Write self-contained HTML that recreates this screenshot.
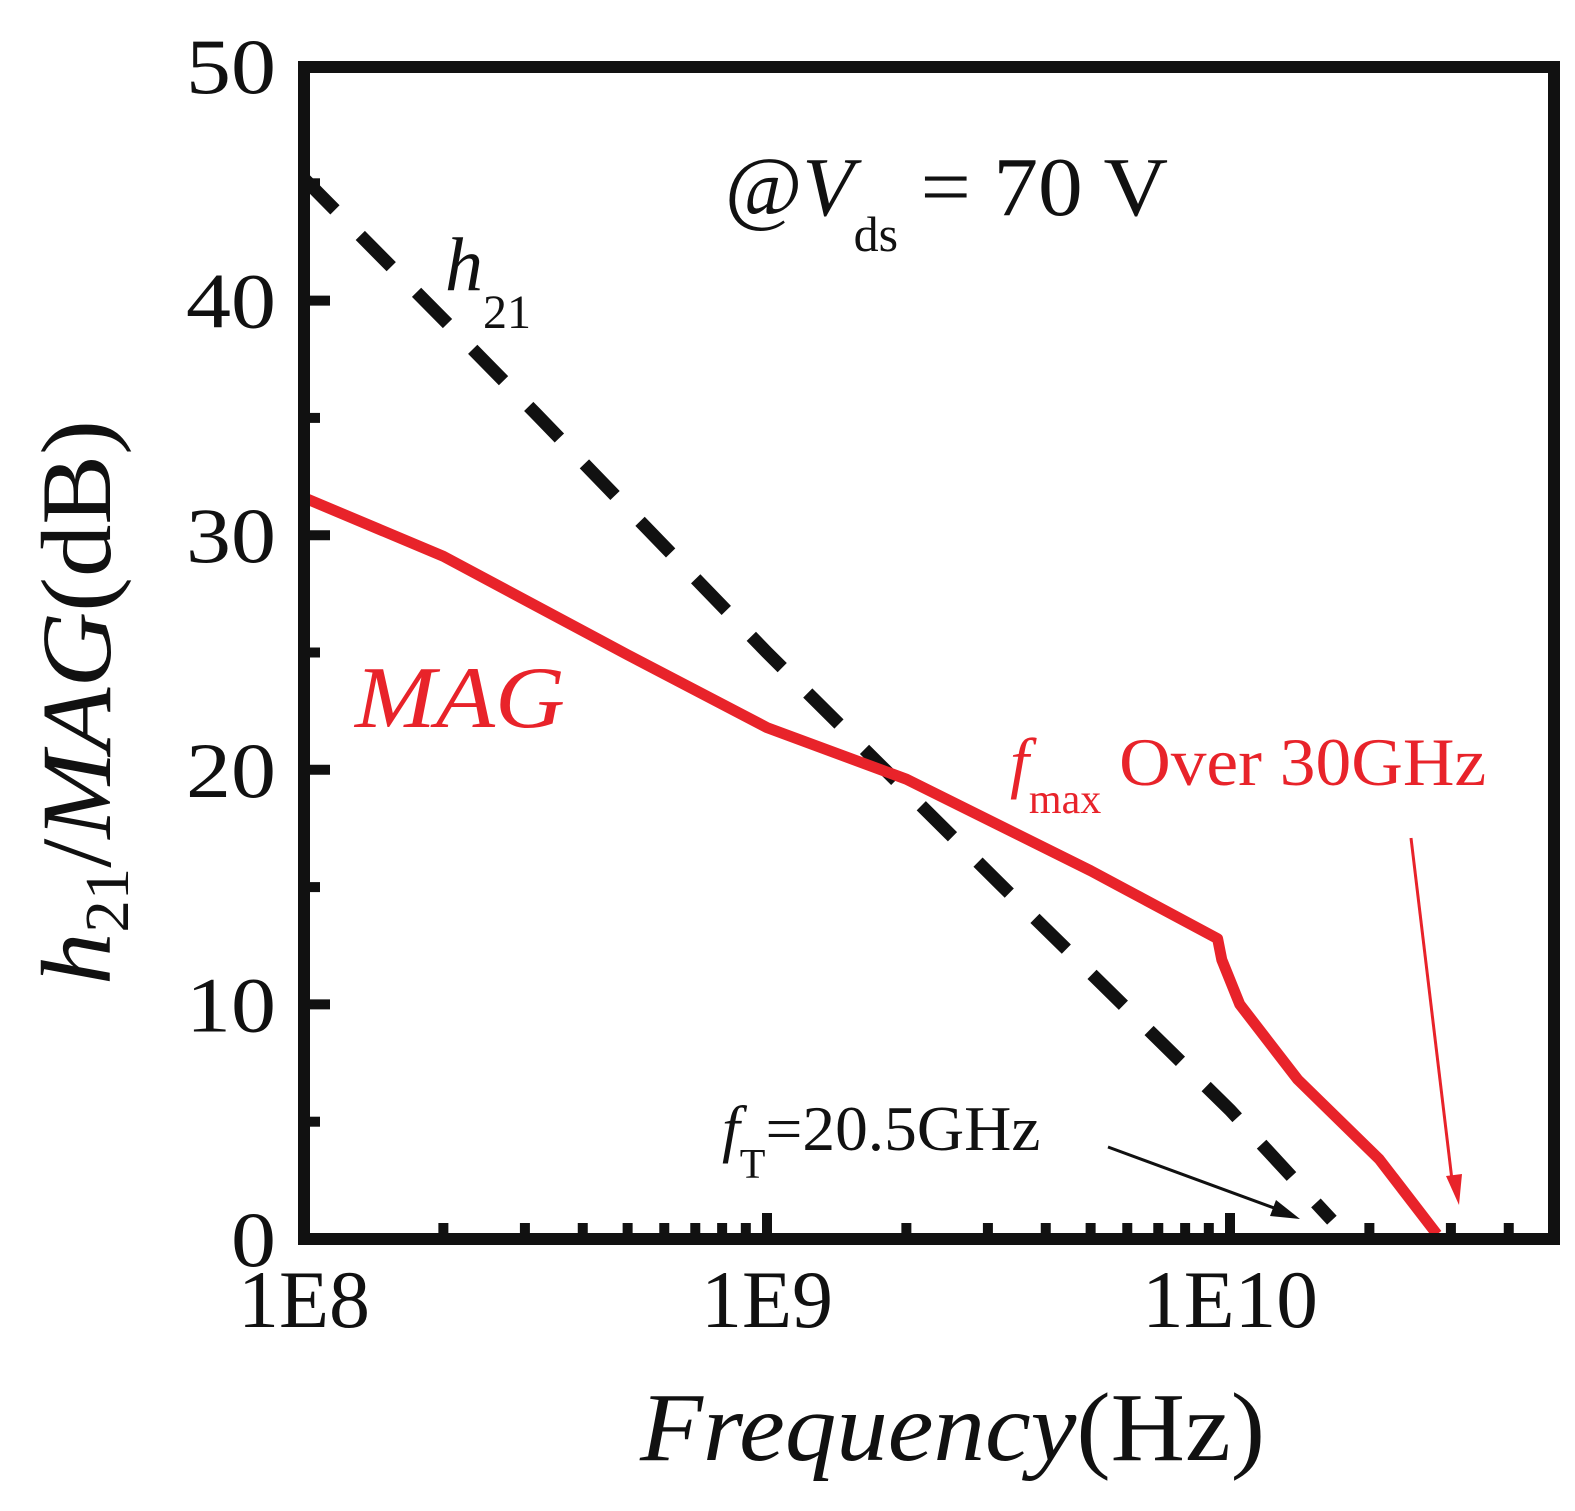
<!DOCTYPE html>
<html><head><meta charset="utf-8"><style>
html,body{margin:0;padding:0;background:#fff;}
svg{display:block;font-family:"Liberation Serif",serif;}
</style></head><body>
<svg id="chart" width="1575" height="1511" viewBox="0 0 1575 1511">
<g id="ticks"></g>
<g id="labels"></g>
<g id="series"></g>
<rect x="304" y="67" width="1250" height="1172" fill="none" stroke="#111" stroke-width="12"/>
<text x="725" y="215" font-size="84" fill="#111">@<tspan font-style="italic">V</tspan><tspan font-size="50" dy="36">ds</tspan><tspan dy="-36" textLength="270" lengthAdjust="spacingAndGlyphs"> = 70 V</tspan></text>
<text x="445" y="290" font-size="76" font-style="italic" fill="#111">h<tspan font-style="normal" font-size="48" dy="38">21</tspan></text>
<text x="355" y="727" font-size="88" font-style="italic" fill="#e8232a" textLength="210" lengthAdjust="spacingAndGlyphs">MAG</text>
<text x="1010" y="785" font-size="68" fill="#e8232a"><tspan font-style="italic">f</tspan><tspan font-size="42" dy="28">max</tspan><tspan dy="-28" textLength="385" lengthAdjust="spacingAndGlyphs"> Over 30GHz</tspan></text>
<text x="722" y="1150" font-size="64" fill="#111"><tspan font-style="italic">f</tspan><tspan font-size="42" dy="28">T</tspan><tspan dy="-28" textLength="275" lengthAdjust="spacingAndGlyphs">=20.5GHz</tspan></text>
<line x1="1108" y1="1147" x2="1285" y2="1212" stroke="#111" stroke-width="3"/>
<polygon points="1300,1219 1270,1216 1276,1200" fill="#111"/>
<line x1="1411" y1="838" x2="1452" y2="1180" stroke="#e8232a" stroke-width="3"/>
<polygon points="1459,1205 1446,1176 1462,1174" fill="#e8232a"/>
<text x="640" y="1460" font-size="98" fill="#111" textLength="625" lengthAdjust="spacingAndGlyphs"><tspan font-style="italic">Frequency</tspan>(Hz)</text>
<text transform="translate(110,985) rotate(-90)" font-size="100" fill="#111" textLength="565" lengthAdjust="spacingAndGlyphs"><tspan font-style="italic">h</tspan><tspan font-size="62" dy="18">21</tspan><tspan dy="-18">/</tspan><tspan font-style="italic">MAG</tspan>(dB)</text>
</svg>
<script>
const xTickDecades = [8, 9, 10];
const xTickLabels = ["1E8", "1E9", "1E10"];
const yTicks = [0, 10, 20, 30, 40, 50];
const h21Freq = [1e8, 2e8, 3.16e8, 1e9, 3.16e9, 1e10, 1.66e10];
const h21Gain = [45.2, 39.2, 35.2, 25.0, 15.2, 5.5, 0.8];
const magFreq = [1e8, 2e8, 5e8, 1e9, 2e9, 5e9, 9.4e9, 9.6e9, 1.05e10, 1.4e10, 2.1e10, 2.8e10];
const magGain = [31.6, 29.1, 24.9, 21.8, 19.6, 15.7, 12.8, 11.9, 10.0, 6.8, 3.4, 0.2];

const NS = "http://www.w3.org/2000/svg";
const X0 = 304, DEC = 463, Y0 = 1239, YPX = 23.46;
function xs(f){ return X0 + (Math.log10(f) - 8) * DEC; }
function ys(v){ return Y0 - v * YPX; }
function mk(tag, attrs, parent){
  const e = document.createElementNS(NS, tag);
  for (const k in attrs) e.setAttribute(k, attrs[k]);
  parent.appendChild(e); return e;
}
const ticks = document.getElementById('ticks');
const labels = document.getElementById('labels');
const series = document.getElementById('series');

xTickDecades.forEach((d, i) => {
  const x = xs(Math.pow(10, d));
  const t = mk('line', {x1: x, y1: Y0, x2: x, y2: Y0 - 26, stroke: '#111', 'stroke-width': 10}, ticks);
  
  
  const l = mk('text', {x: x, y: 1327, 'text-anchor': 'middle', 'font-size': 82, fill: '#111', textLength: 44 * xTickLabels[i].length, lengthAdjust: 'spacingAndGlyphs'}, labels);
  l.textContent = xTickLabels[i];
  
  
  for (let m = 2; m <= 9; m++) {
    const f = m * Math.pow(10, d);
    const xm = xs(f);
    if (xm > 1548) continue;
    const mt = mk('line', {x1: xm, y1: Y0, x2: xm, y2: Y0 - 16, stroke: '#111', 'stroke-width': 10}, ticks);
    
    
  }
});
yTicks.forEach((v) => {
  const y = ys(v);
  const t = mk('line', {x1: X0, y1: y, x2: X0 + 26, y2: y, stroke: '#111', 'stroke-width': 10}, ticks);
  
  
  const s = String(v);
  const l = mk('text', {x: 276, y: y + 27, 'text-anchor': 'end', 'font-size': 78, fill: '#111', textLength: 45 * s.length, lengthAdjust: 'spacingAndGlyphs'}, labels);
  l.textContent = s;
  
  
  if (v < 50) {
    const ym = ys(v + 5);
    const mt = mk('line', {x1: X0, y1: ym, x2: X0 + 16, y2: ym, stroke: '#111', 'stroke-width': 10}, ticks);
    
    
  }
});
function pts(fs, gs){ return fs.map((f, i) => xs(f).toFixed(1) + ',' + ys(gs[i]).toFixed(1)).join(' '); }
const h = mk('polyline', {points: pts(h21Freq, h21Gain), fill: 'none', stroke: '#111', 'stroke-width': 13, 'stroke-dasharray': '44 36'}, series);


const m = mk('polyline', {points: pts(magFreq, magGain), fill: 'none', stroke: '#e8232a', 'stroke-width': 11, 'stroke-linejoin': 'round'}, series);


</script>
</body></html>
